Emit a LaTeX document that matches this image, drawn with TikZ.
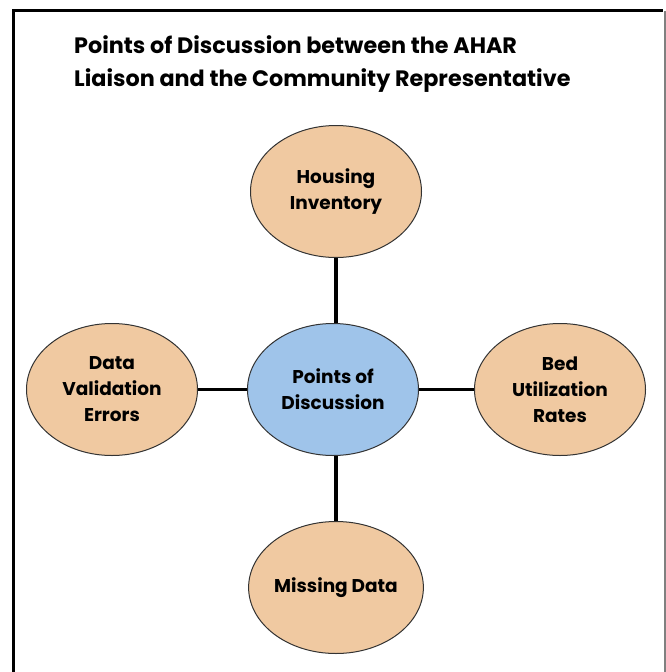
\documentclass[tikz,border=0pt]{standalone}
\usepackage{fontspec}
\setmainfont{Poppins}
\usetikzlibrary{positioning,shapes.geometric}

\definecolor{peach}{RGB}{240,201,161}
\definecolor{lightblue}{RGB}{159,196,234}

\begin{document}
\begin{tikzpicture}[x=1pt, y=-1pt, node distance=65pt,
  topic/.style={ellipse, draw=black!80, line width=1pt, fill=peach,
    minimum width=171pt, minimum height=132pt, inner sep=0pt,
    align=center, font=\fontsize{18.5}{26}\selectfont\bfseries},
  link/.style={line width=3.5pt}]
\useasboundingbox (0,0) rectangle (666,672);

% frame
\draw[line width=3.5pt] (13.5,672) -- (13.5,10.5) -- (663,10.5);
\draw[gray, line width=1.2pt] (665,10.5) -- (665,672);

\node[anchor=north west, inner sep=0pt, align=left,
  font=\fontsize{22.3}{33}\selectfont\bfseries] (title) at (74,35)
  {Points of Discussion between the AHAR\\Liaison and the Community Representative};

\node[topic, fill=lightblue] (disc) at (333,389.5) {Points of\\Discussion};
\node[topic, xshift=3pt] (housing) [above=of disc] {Housing\\Inventory};
\node[topic, xshift=3pt] (missing) [below=of disc] {Missing Data};
\node[topic] (errors) [left=49pt of disc] {Data\\Validation\\Errors};
\node[topic] (beds) [right=55pt of disc] {Bed\\Utilization\\Rates};

\draw[link] (disc) -- (errors);
\draw[link] (disc) -- (beds);
\draw[link] (housing.south) -- (housing.south |- disc.north);
\draw[link] (missing.north) -- (missing.north |- disc.south);
\end{tikzpicture}
\end{document}
